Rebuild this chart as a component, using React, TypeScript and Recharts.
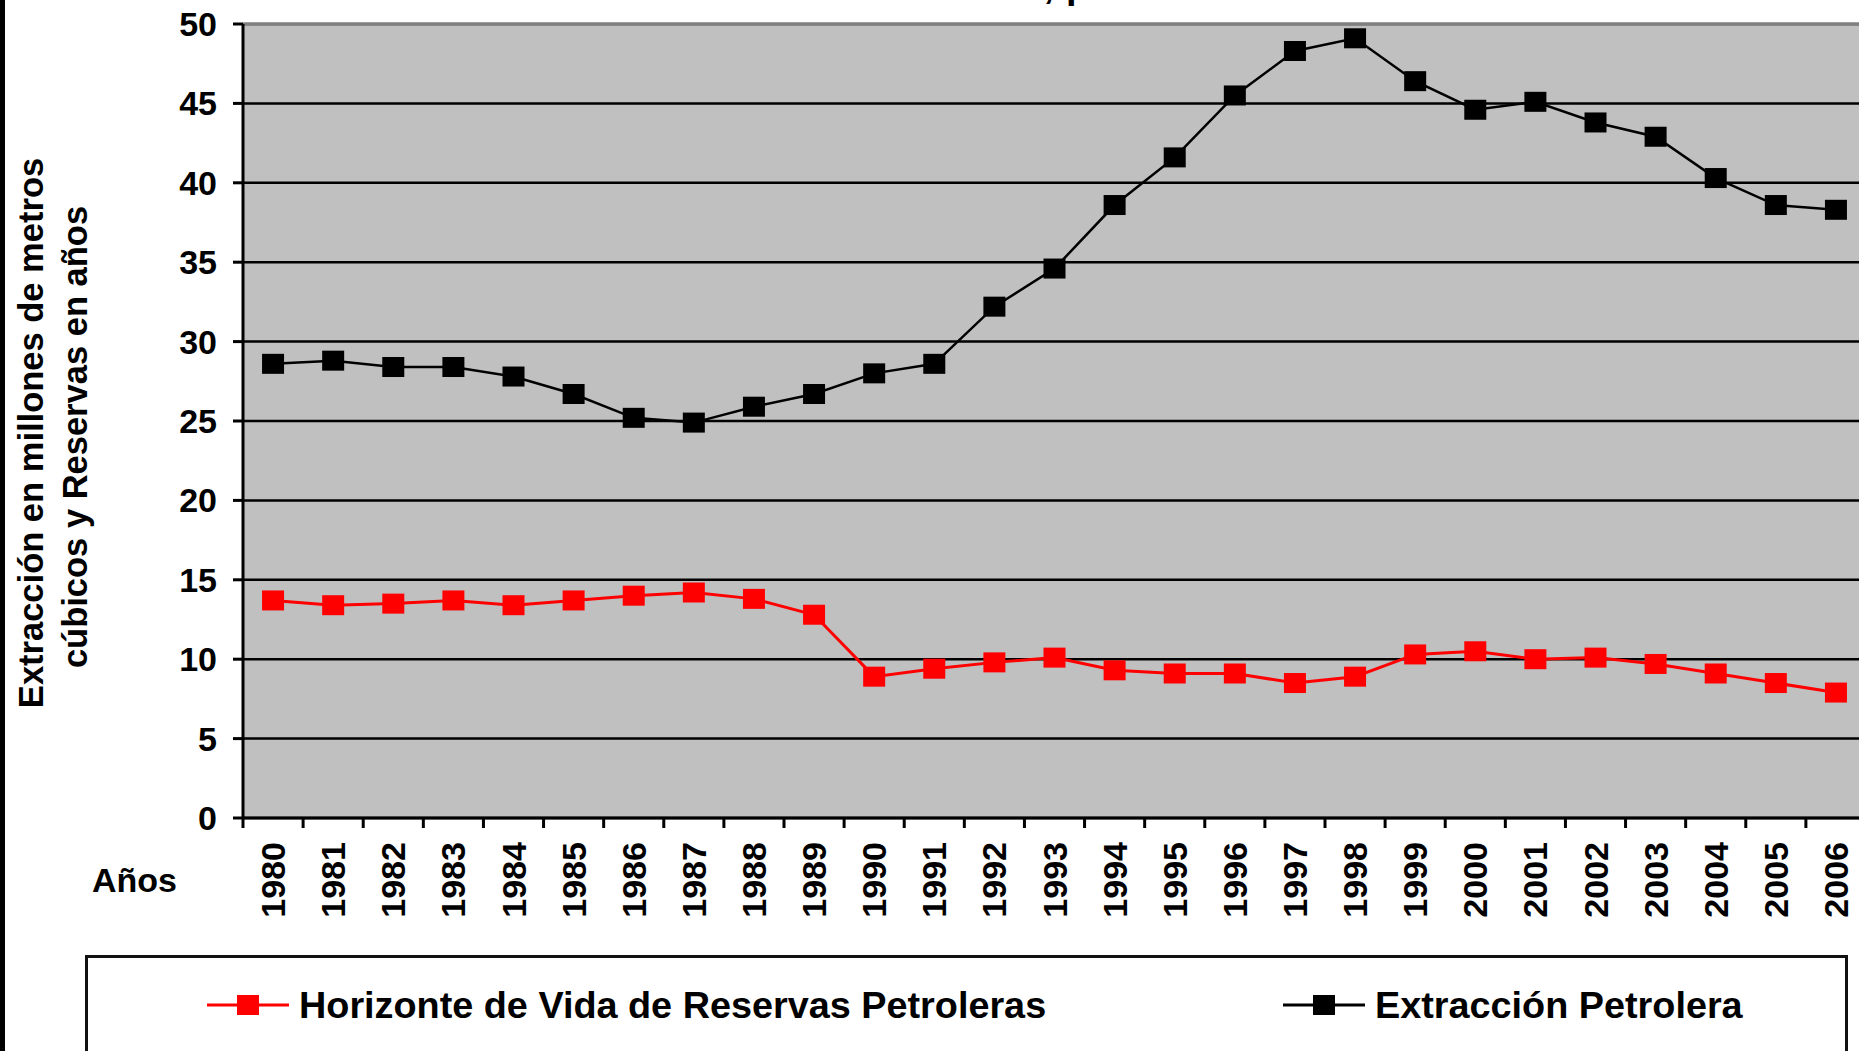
import React from "react";
import {
  LineChart,
  Line,
  XAxis,
  YAxis,
  CartesianGrid,
  ReferenceLine,
} from "recharts";

const years = [
  "1980", "1981", "1982", "1983", "1984", "1985", "1986", "1987", "1988",
  "1989", "1990", "1991", "1992", "1993", "1994", "1995", "1996", "1997",
  "1998", "1999", "2000", "2001", "2002", "2003", "2004", "2005", "2006",
];

// Horizonte de Vida de Reservas Petroleras (años)
const horizonte = [
  13.7, 13.4, 13.5, 13.7, 13.4, 13.7, 14.0, 14.2, 13.8, 12.8, 8.9, 9.4, 9.8,
  10.1, 9.3, 9.1, 9.1, 8.5, 8.9, 10.3, 10.5, 10.0, 10.1, 9.7, 9.1, 8.5, 7.9,
];

// Extracción Petrolera (millones de m3)
const extraccion = [
  28.6, 28.8, 28.4, 28.4, 27.8, 26.7, 25.2, 24.9, 25.9, 26.7, 28.0, 28.6, 32.2,
  34.6, 38.6, 41.6, 45.5, 48.3, 49.1, 46.4, 44.6, 45.1, 43.8, 42.9, 40.3, 38.6,
  38.3,
];

const yTicks = [0, 5, 10, 15, 20, 25, 30, 35, 40, 45, 50];

const FONT = '"Liberation Sans", Arial, sans-serif';
const RED = "#ff0000";
const BLACK = "#000000";

const CHART_W = 1870;
const CHART_H = 1051;
const MARGIN = { top: 24, right: 4, left: 0, bottom: 0 };
const Y_AXIS_W = 243;
const BAND = (CHART_W - MARGIN.left - MARGIN.right - Y_AXIS_W) / years.length;

const data = years.map((year, i) => ({
  year,
  horizonte: horizonte[i],
  extraccion: extraccion[i],
}));

function YTick({ x, y, payload }: any) {
  return (
    <text
      x={x}
      y={y}
      dy={12}
      textAnchor="end"
      fontFamily={FONT}
      fontWeight="bold"
      fontSize={34}
      fill="#000"
    >
      {payload.value}
    </text>
  );
}

function XTick({ x, y, payload, index }: any) {
  const axisY = y - 24;
  const left = x - BAND / 2;
  const last = index === years.length - 1;
  return (
    <g>
      <line x1={left} y1={axisY} x2={left} y2={axisY + 10} stroke="#000" strokeWidth={3} />
      {last && (
        <line x1={x + BAND / 2} y1={axisY} x2={x + BAND / 2} y2={axisY + 10} stroke="#000" strokeWidth={3} />
      )}
      <text
        x={x + 12}
        y={y}
        transform={`rotate(-90, ${x + 12}, ${y})`}
        textAnchor="end"
        fontFamily={FONT}
        fontWeight="bold"
        fontSize={34}
        fill="#000"
      >
        {payload.value}
      </text>
    </g>
  );
}

function squareDot(color: string) {
  return (props: any) => {
    const { cx, cy, index } = props;
    if (cx == null || cy == null) return <g key={index} />;
    return (
      <rect key={index} x={cx - 11} y={cy - 10} width={22} height={20} fill={color} />
    );
  };
}

function LegendIcon({ color }: { color: string }) {
  return (
    <svg width={82} height={24} style={{ display: "block" }}>
      <line x1={0} y1={12} x2={82} y2={12} stroke={color} strokeWidth={3} />
      <rect x={30} y={2} width={22} height={20} fill={color} />
    </svg>
  );
}

export default function App() {
  return (
    <div
      style={{
        position: "fixed",
        left: 0,
        top: 0,
        width: 1859,
        height: 1051,
        overflow: "hidden",
        background: "#fff",
      }}
    >
      <LineChart width={CHART_W} height={CHART_H} data={data} margin={MARGIN}>
        <CartesianGrid
          vertical={false}
          stroke="#000"
          strokeWidth={2.5}
          fill="#c0c0c0"
          fillOpacity={1}
        />
        <ReferenceLine y={50} stroke="#808080" strokeWidth={3} />
        <XAxis
          dataKey="year"
          interval={0}
          height={233}
          padding={{ left: BAND / 2, right: BAND / 2 }}
          tickLine={false}
          tickSize={10}
          tickMargin={14}
          axisLine={{ stroke: "#000", strokeWidth: 3 }}
          tick={<XTick />}
        />
        <YAxis
          domain={[0, 50]}
          ticks={yTicks}
          width={Y_AXIS_W}
          tickSize={10}
          tickMargin={16}
          interval={0}
          axisLine={{ stroke: "#000", strokeWidth: 3 }}
          tickLine={{ stroke: "#000", strokeWidth: 3 }}
          tick={<YTick />}
        />
        <Line
          type="linear"
          dataKey="horizonte"
          name="Horizonte de Vida de Reservas Petroleras"
          stroke={RED}
          strokeWidth={3}
          dot={squareDot(RED)}
          activeDot={false}
          isAnimationActive={false}
        />
        <Line
          type="linear"
          dataKey="extraccion"
          name="Extracción Petrolera"
          stroke={BLACK}
          strokeWidth={2.5}
          dot={squareDot(BLACK)}
          activeDot={false}
          isAnimationActive={false}
        />
      </LineChart>

      <svg
        width={1859}
        height={1051}
        style={{ position: "absolute", left: 0, top: 0, pointerEvents: "none" }}
        fontFamily={FONT}
        fontWeight="bold"
      >
        <text x={1054} y={-2} textAnchor="end" fontSize={38} fill="#000">
          Extracción Petrolera,
        </text>
        <text x={1066} y={-2} textAnchor="start" fontSize={38} fill="#000">
          período 1980-2006
        </text>
        <text transform="translate(43,433) rotate(-90)" textAnchor="middle" fontSize={34.5} fill="#000">
          Extracción en millones de metros
        </text>
        <text transform="translate(87,437) rotate(-90)" textAnchor="middle" fontSize={34.5} fill="#000">
          cúbicos y Reservas en años
        </text>
        <text x={92} y={892} fontSize={34} fill="#000">
          Años
        </text>
      </svg>

      <div style={{ position: "absolute", left: 0, top: 0, width: 5, height: 1051, background: "#000" }} />

      <div
        style={{
          position: "absolute",
          left: 85,
          top: 955,
          width: 1763,
          height: 140,
          border: "3px solid #111",
          boxSizing: "border-box",
          fontFamily: FONT,
          fontWeight: "bold",
          fontSize: 37.8,
          color: "#000",
        }}
      >
        <div style={{ position: "absolute", left: 119, top: 27, display: "flex", alignItems: "center", gap: 10 }}>
          <LegendIcon color={RED} />
          <span style={{ lineHeight: "40px" }}>Horizonte de Vida de Reservas Petroleras</span>
        </div>
        <div style={{ position: "absolute", left: 1195, top: 27, display: "flex", alignItems: "center", gap: 10 }}>
          <LegendIcon color={BLACK} />
          <span style={{ lineHeight: "40px" }}>Extracción Petrolera</span>
        </div>
      </div>
    </div>
  );
}
